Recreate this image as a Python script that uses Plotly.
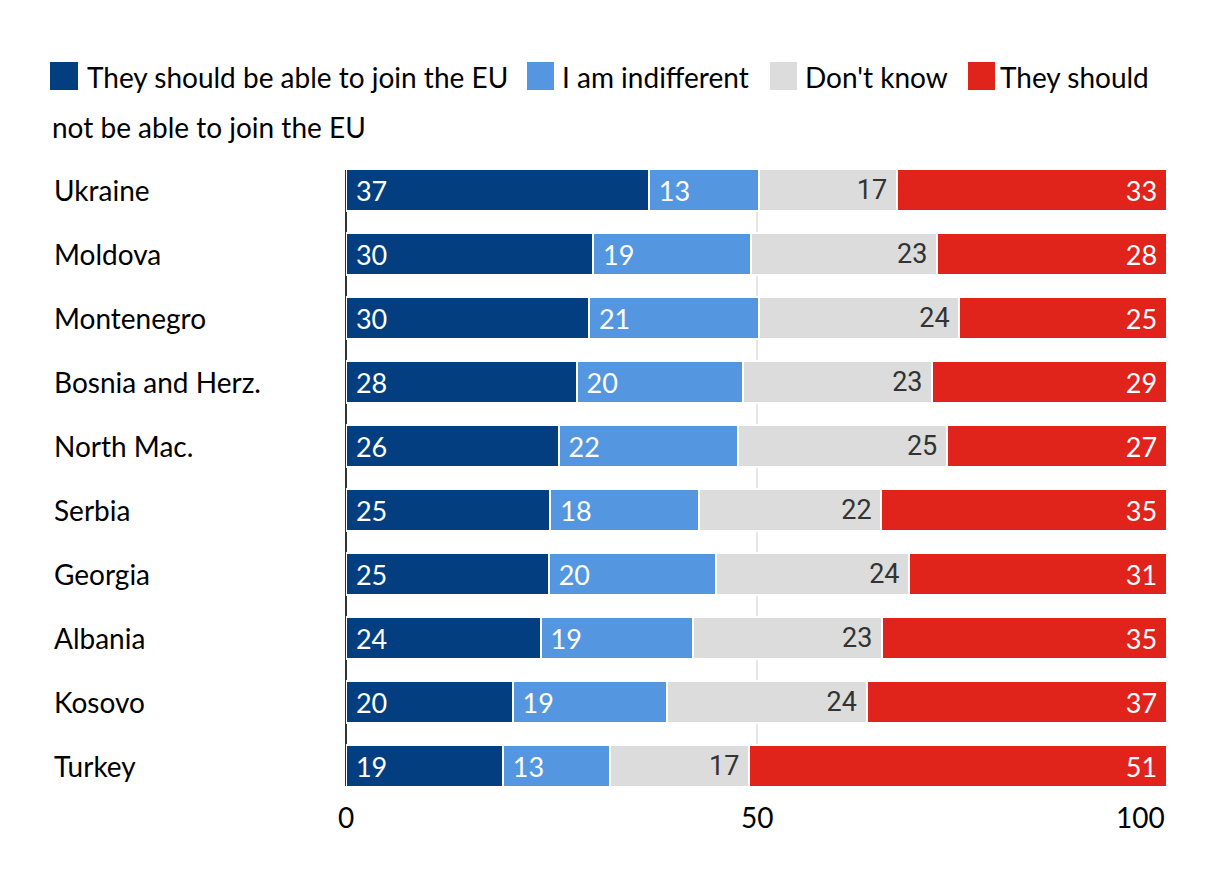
import plotly.graph_objects as go

countries = ["Ukraine", "Moldova", "Montenegro", "Bosnia and Herz.", "North Mac.",
             "Serbia", "Georgia", "Albania", "Kosovo", "Turkey"]
should_join = [36.9, 30.1, 29.6, 28.1, 25.9, 24.9, 24.7, 23.7, 20.3, 19.1]
indifferent = [13.4, 19.2, 20.7, 20.2, 21.9, 18.1, 20.4, 18.6, 18.8, 13.1]
dont_know = [16.8, 22.7, 24.4, 23.1, 25.4, 22.2, 23.5, 23.0, 24.3, 16.9]
should_not = [32.9, 28.0, 25.3, 28.6, 26.8, 34.8, 31.4, 34.7, 36.6, 50.9]
series_names = ["They should be able to join the EU", "I am indifferent", "Don't know",
                "They should not be able to join the EU"]
x_ticks = [0, 50, 100]

OFF = 8  # page body margin in the browser
W, H = 1220 - OFF, 886 - OFF
ML, MT = 346 - OFF, 170 - OFF
MR = W - (1167 - OFF)
MB = H - (786 - OFF)
PW, PH = W - ML - MR, H - MT - MB

def px2x(px):
    return (px - OFF - ML) / PW

def px2y(py):
    return (H - MB - (py - OFF)) / PH

colors = ["#033f80", "#5596e0", "#dcdcdc", "#e1241b"]
MAIN_FONT = "Lato"
NB = "\u00a0"
TXT = 28

fig = go.Figure()
specs = [
    (should_join, colors[0], "start", NB + "%{x:.0f}", "white", MAIN_FONT),
    (indifferent, colors[1], "start", NB + "%{x:.0f}", "white", MAIN_FONT),
    (dont_know, colors[2], "end", "%{x:.0f}" + NB, "#333333", "Roboto"),
    (should_not, colors[3], "end", "%{x:.0f}" + NB, "white", MAIN_FONT),
]
for (vals, col, anchor, tmpl, tcol, tfont), name in zip(specs, series_names):
    fig.add_trace(go.Bar(
        y=countries, x=vals, orientation="h", name=name,
        marker=dict(color=col, line=dict(color="white", width=2)),
        texttemplate=tmpl, textposition="inside", insidetextanchor=anchor,
        textangle=0, constraintext="none",
        textfont=dict(family=tfont, size=27, color=tcol),
        hovertemplate="%{y}: %{x}<extra>" + name + "</extra>",
        showlegend=False,
    ))

annotations = []
shapes = []
# Category labels (left aligned)
for c in countries:
    annotations.append(dict(x=px2x(52), xref="paper", y=c, yref="y", text=c,
                            xanchor="left", yanchor="middle", showarrow=False,
                            font=dict(family=MAIN_FONT, size=TXT, color="black")))
# X tick labels
for v, anc in zip(x_ticks, ["center", "center", "right"]):
    annotations.append(dict(x=v, xref="x", y=px2y(817), yref="paper", text=str(v),
                            xanchor=anc, yanchor="middle", showarrow=False,
                            font=dict(family=MAIN_FONT, size=TXT, color="black")))

# Custom legend
legend_items = [
    (50, 78, 85, series_names[0]),
    (527, 554, 560, series_names[1]),
    (770, 797, 803, series_names[2]),
    (968, 995, 998, "They should"),
]
for (sx0, sx1, tx, label), col in zip(legend_items, colors):
    shapes.append(dict(type="rect", xref="paper", yref="paper",
                       x0=px2x(sx0), x1=px2x(sx1), y0=px2y(90), y1=px2y(62),
                       fillcolor=col, line=dict(width=0)))
    annotations.append(dict(x=px2x(tx), xref="paper", y=px2y(77), yref="paper", text=label,
                            xanchor="left", yanchor="middle", showarrow=False,
                            font=dict(family=MAIN_FONT, size=TXT, color="black")))
annotations.append(dict(x=px2x(50), xref="paper", y=px2y(127), yref="paper",
                        text="not be able to join the EU",
                        xanchor="left", yanchor="middle", showarrow=False,
                        font=dict(family=MAIN_FONT, size=TXT, color="black")))

fig.update_layout(
    width=W, height=H,
    margin=dict(l=ML, r=MR, t=MT, b=MB),
    barmode="stack", bargap=0.344,
    plot_bgcolor="white", paper_bgcolor="white",
    font=dict(family=MAIN_FONT, size=TXT, color="black"),
    xaxis=dict(range=[0, 100], tickvals=x_ticks, showticklabels=False,
               showgrid=True, gridcolor="#e6e6e6", gridwidth=2,
               zeroline=True, zerolinecolor="#333333", zerolinewidth=2,
               fixedrange=True),
    yaxis=dict(categoryorder="array", categoryarray=countries,
               range=[len(countries) - 1 + 0.3125, -0.3125],
               showticklabels=False, showgrid=False, zeroline=False, fixedrange=True),
    annotations=annotations, shapes=shapes,
    showlegend=False,
)

fig.write_html("out.html")
